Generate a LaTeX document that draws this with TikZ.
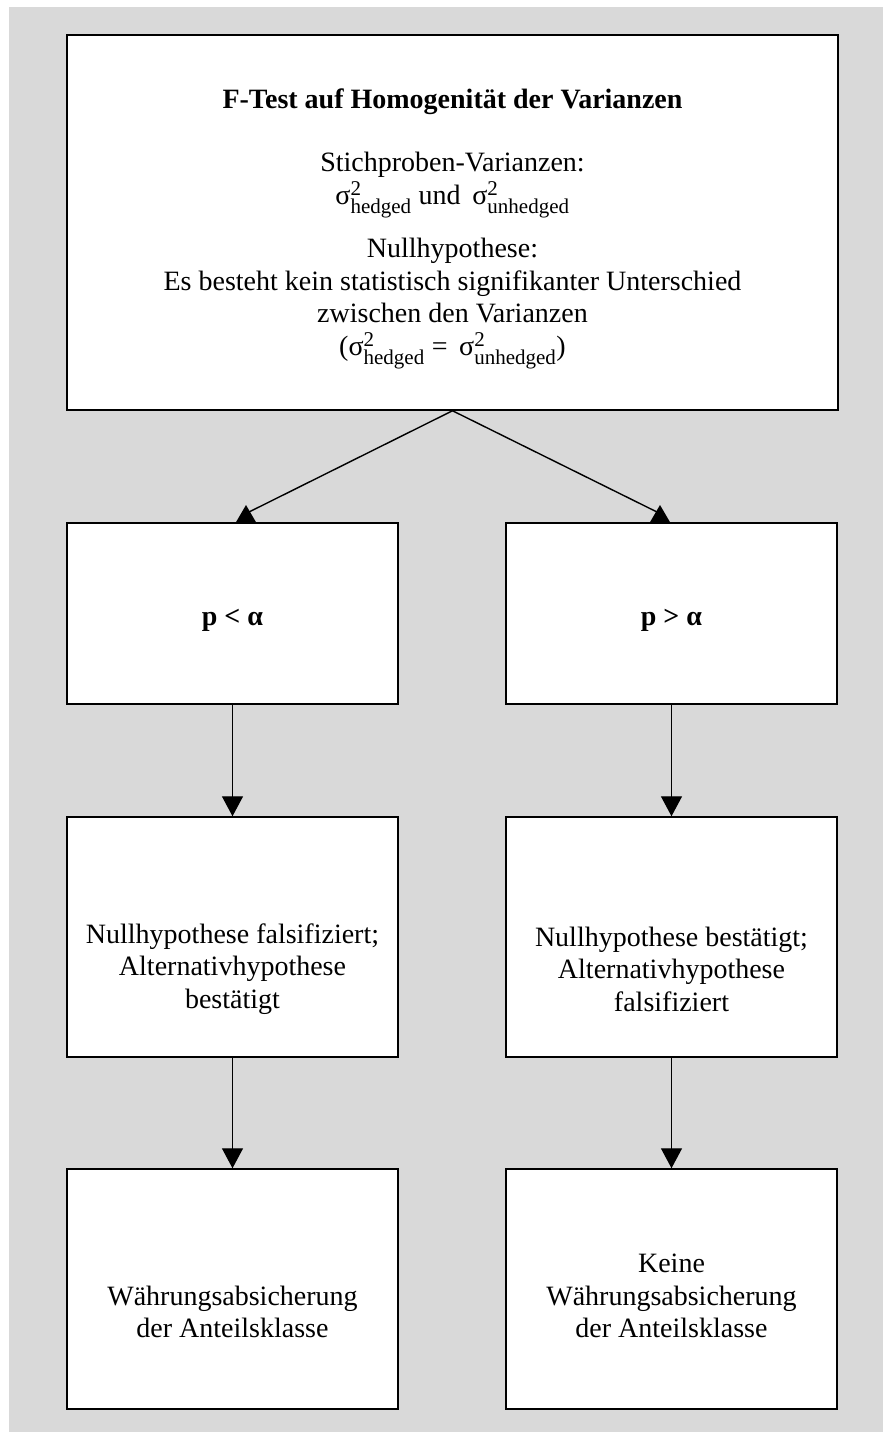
\documentclass[tikz,border=0pt]{standalone}
\usepackage{amsmath}
\usepackage{fontspec}
\setmainfont{Liberation Serif}
\usetikzlibrary{arrows.meta}
\definecolor{bggray}{HTML}{D9D9D9}
\newcommand{\scr}[1]{\mbox{\fontsize{21}{21}\selectfont #1}}
\newcommand{\sig}[1]{$\text{σ}^{\scr{2}}_{\scr{#1}}$}
\tikzset{
  box/.style={draw=black, line width=1.5pt, fill=white, inner sep=0pt},
  txt/.style={align=center, inner sep=0pt, font=\fontsize{28}{32.5}\selectfont},
  conn/.style={line width=1.4pt},
  arr/.style={line width=1.4pt, -{Triangle[length=20pt,width=21pt]}},
  headtri/.style={fill=black}
}
\begin{document}
\begin{tikzpicture}[x=1pt,y=-1pt]
\useasboundingbox (0,0) rectangle (883,1432);
\fill[bggray] (9,7) rectangle (883,1432);

% boxes
\node[box, minimum width=771pt, minimum height=375pt] (top) at (452.5,222.5) {};
\node[box, minimum width=331pt, minimum height=181pt] (l2) at (232.5,613.5) {};
\node[box, minimum width=331pt, minimum height=181pt] (r2) at (671.5,613.5) {};
\node[box, minimum width=331pt, minimum height=240pt] (l3) at (232.5,937) {};
\node[box, minimum width=331pt, minimum height=240pt] (r3) at (671.5,937) {};
\node[box, minimum width=331pt, minimum height=240pt] (l4) at (232.5,1289) {};
\node[box, minimum width=331pt, minimum height=240pt] (r4) at (671.5,1289) {};

% texts
\node[txt] (toptxt) at (452.5,229) {\textbf{F-Test auf Homogenität der Varianzen}\\[31pt]
  Stichproben-Varianzen:\\
  \sig{hedged} und \,\sig{unhedged}\\[19pt]
  Nullhypothese:\\
  Es besteht kein statistisch signifikanter Unterschied\\
  zwischen den Varianzen\\
  (\sig{hedged} $\text{=}$ \,\sig{unhedged})};
\node[txt] (l2txt) at (232.5,620) {\textbf{p < α}};
\node[txt] (r2txt) at (671.5,620) {\textbf{p > α}};
\node[txt] (l3txt) at (232.5,969) {Nullhypothese falsifiziert;\\ Alternativhypothese\\ bestätigt};
\node[txt] (r3txt) at (671.5,969) {Nullhypothese bestätigt;\\ Alternativhypothese\\ falsifiziert};
\node[txt] (l4txt) at (232.5,1312) {Währungsabsicherung\\ der Anteilsklasse};
\node[txt] (r4txt) at (671.5,1296) {Keine\\ Währungsabsicherung\\ der Anteilsklasse};

% diagonal connectors with upright heads
\coordinate (lhead) at (246,523);
\coordinate (rhead) at (660,523);
\coordinate (lend) at (249,512);
\coordinate (rend) at (657,512);
\draw[conn] (top.south) -- (lend);
\draw[conn] (top.south) -- (rend);
\fill[headtri] (lhead) ++(-10.5,0) -- ++(21,0) -- ++(-10.5,-18) -- cycle;
\fill[headtri] (rhead) ++(-10.5,0) -- ++(21,0) -- ++(-10.5,-18) -- cycle;

% vertical arrows
\draw[arr] (l2.south) -- (l3.north);
\draw[arr] (r2.south) -- (r3.north);
\draw[arr] (l3.south) -- (l4.north);
\draw[arr] (r3.south) -- (r4.north);
\end{tikzpicture}
\end{document}
